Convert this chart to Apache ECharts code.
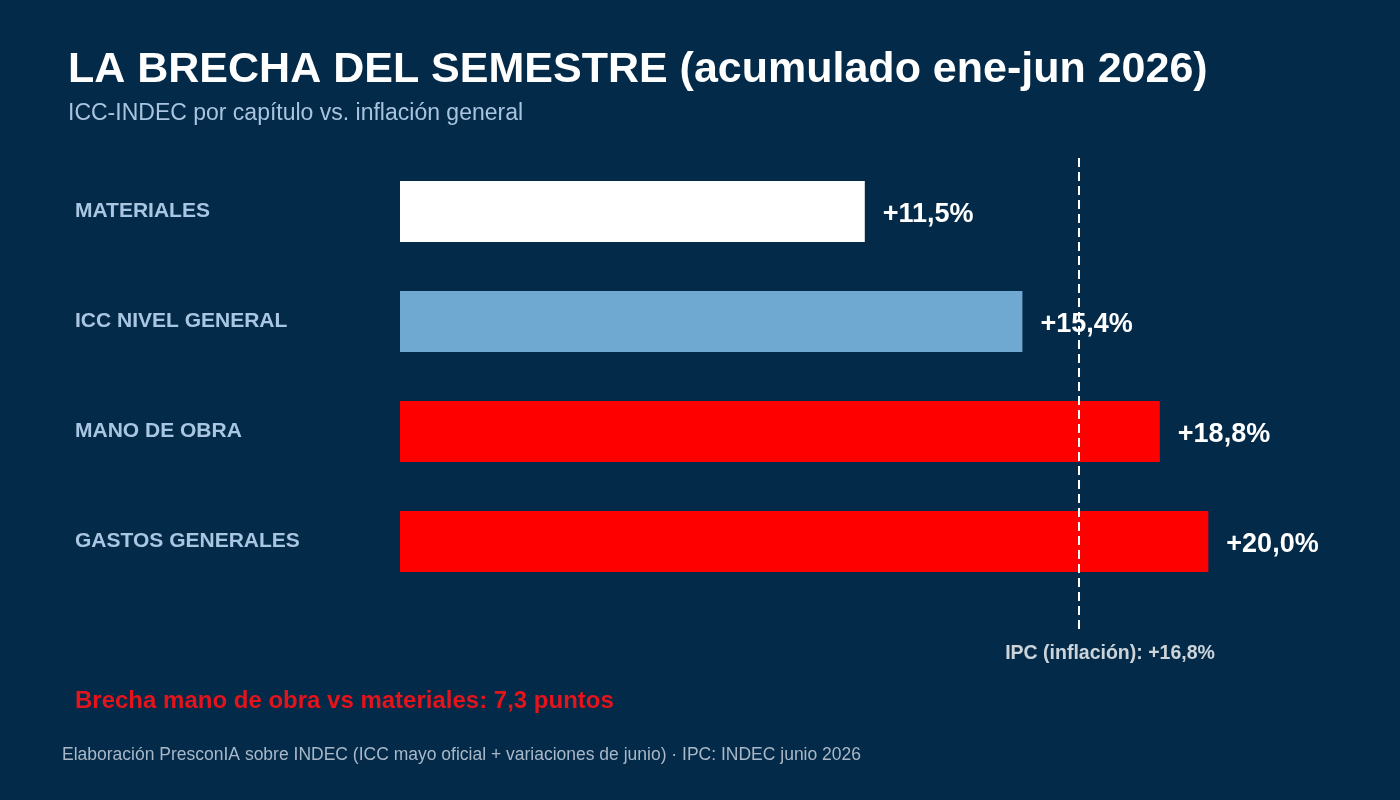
<!DOCTYPE html>
<html>
<head>
<meta charset="utf-8">
<script src="https://cdn.jsdelivr.net/npm/echarts@6/dist/echarts.min.js"></script>
<style>
html,body{margin:0;padding:0;background:#032a48;}
#chart{width:1400px;height:800px;}
</style>
</head>
<body>
<div id="chart"></div>
<script>
const categories = ['MATERIALES', 'ICC NIVEL GENERAL', 'MANO DE OBRA', 'GASTOS GENERALES'];
const values = [11.5, 15.4, 18.8, 20.0];
const barColors = ['#ffffff', '#6fa8d0', '#ff0000', '#ff0000'];
const ipcValue = 16.8;
const titleText = 'LA BRECHA DEL SEMESTRE (acumulado ene-jun 2026)';
const subtitleText = 'ICC-INDEC por capítulo vs. inflación general';
const gapText = 'Brecha mano de obra vs materiales: 7,3 puntos';
const footerText = 'Elaboración PresconIA sobre INDEC (ICC mayo oficial + variaciones de junio) · IPC: INDEC junio 2026';

const FONT = "'Liberation Sans', Arial, sans-serif";
const fmt = v => '+' + v.toFixed(1).replace('.', ',') + '%';

const chart = echarts.init(document.getElementById('chart'));
chart.setOption({
  backgroundColor: '#032a48',
  animation: false,
  grid: [
    { left: 400, width: 970, top: 156.5, height: 440 },
    { left: 400, width: 970, top: 158, height: 472 }
  ],
  xAxis: [
    { type: 'value', gridIndex: 0, min: 0, max: 24, show: false },
    { type: 'value', gridIndex: 1, min: 0, max: 24, show: false }
  ],
  yAxis: [
    {
      type: 'category', gridIndex: 0, data: categories, inverse: true,
      axisLine: { show: false }, axisTick: { show: false }, splitLine: { show: false },
      axisLabel: {
        align: 'left', margin: 325, color: '#a9c6e2',
        fontFamily: FONT, fontWeight: 'bold', fontSize: 21,
        verticalAlign: 'middle', padding: [0, 0, 13, 0]
      }
    },
    { type: 'value', gridIndex: 1, min: 0, max: 1, show: false }
  ],
  series: [
    {
      type: 'bar', xAxisIndex: 0, yAxisIndex: 0, barWidth: 61,
      data: values.map((v, i) => ({ value: v, itemStyle: { color: barColors[i] } })),
      label: {
        show: true, position: 'right', distance: 18, offset: [0, 3],
        formatter: p => fmt(p.value),
        color: '#ffffff', fontFamily: FONT, fontWeight: 'bold', fontSize: 27
      }
    },
    {
      type: 'line', xAxisIndex: 1, yAxisIndex: 1, symbol: 'none',
      lineStyle: { color: '#ffffff', width: 2, type: [9, 5] },
      data: [[ipcValue, 1], [ipcValue, 0]]
    },
    {
      type: 'scatter', xAxisIndex: 1, yAxisIndex: 1, symbolSize: 0,
      data: [[ipcValue, 0]],
      label: {
        show: true, position: 'bottom', distance: 14, offset: [31, 0],
        formatter: p => 'IPC (inflación): ' + fmt(p.value[0]),
        color: '#ffffff', fontFamily: FONT, fontWeight: 'bold', fontSize: 19.5
      }
    }
  ],
  graphic: [
    { type: 'text', left: 68, top: 49, style: { text: titleText, fill: '#ffffff', font: 'bold 43px ' + FONT } },
    { type: 'text', left: 68, top: 102, style: { text: subtitleText, fill: '#a9c4df', font: '23px ' + FONT } },
    { type: 'text', left: 75, top: 689, style: { text: gapText, fill: '#e3141b', font: 'bold 24px ' + FONT } },
    { type: 'text', left: 62, top: 746, style: { text: footerText, fill: '#a9b8c8', font: '17.5px ' + FONT } }
  ]
});
</script>
</body>
</html>
